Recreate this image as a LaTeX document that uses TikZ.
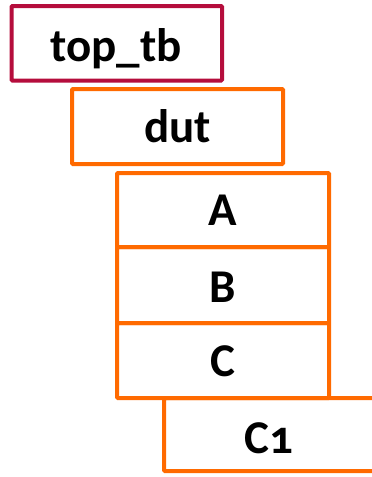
\documentclass[tikz,border=0pt]{standalone}
\usepackage{fontspec}
\setmainfont{Carlito}[Numbers=OldStyle]
\definecolor{crim}{RGB}{181,13,60}
\definecolor{orng}{RGB}{255,106,0}
\tikzset{
  box/.style={draw=orng, line width=4pt, rounded corners=1pt, inner sep=0pt, outer sep=0pt},
  lbl/.style={anchor=base, inner sep=0pt, font=\fontsize{47}{50}\selectfont\bfseries, text=black}
}
\begin{document}
\begin{tikzpicture}[x=1pt,y=-1pt]
\useasboundingbox (0,0) rectangle (372,477);
% boxes
\node[box, draw=crim, minimum width=210.5pt, minimum height=74.5pt] (tb) at (116.75,43.25) {};
\node[box, minimum width=211pt, minimum height=75pt] (dut) at (177.5,126.5) {};
\node[box, minimum width=212pt, minimum height=74pt] (a) at (223,210) {};
\node[box, minimum width=212pt, minimum height=76pt] (b) at (223,285) {};
\node[box, minimum width=212pt, minimum height=75pt] (c) at (223,360.5) {};
\node[box, minimum width=220pt, minimum height=73pt] (c1) at (274,434.5) {};
% labels
\node[lbl] (ttb) at (116,61) {top\_tb};
\node[lbl] (tdut) at (177.5,142) {dut};
\node[lbl] (ta) at (222.5,225) {A};
\node[lbl] (tbb) at (222.5,302) {B};
\node[lbl] (tc) at (222.5,376) {C};
\node[lbl] (tc1) at (269,453) {C1};
\end{tikzpicture}
\end{document}
